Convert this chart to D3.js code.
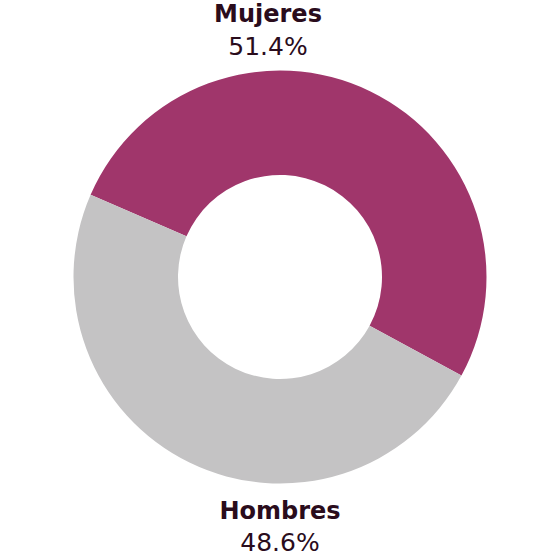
<!DOCTYPE html>
<html>
<head>
<meta charset="utf-8">
<script src="https://cdn.jsdelivr.net/npm/d3@7"></script>
<style>
  html, body { margin: 0; padding: 0; background: #ffffff; }
  svg { display: block; }
</style>
</head>
<body>
<svg id="chart" width="560" height="560"></svg>
<script>
const categories = ["Mujeres", "Hombres"];
const values = [51.4, 48.6];
const valueLabels = ["51.4%", "48.6%"];
const colors = ["#a0366b", "#c4c3c4"];

const svg = d3.select("#chart");
const cx = 280, cy = 277;
const outerR = 206.5, innerR = 102;

const data = categories.map((c, i) => ({ name: c, value: values[i], label: valueLabels[i] }));

// centre the Mujeres slice on the direction seen in the reference (~26° clockwise from top)
const span = 2 * Math.PI * values[0] / d3.sum(values);
const mid = 26 * Math.PI / 180;
const start = mid - span / 2;

const pie = d3.pie().value(d => d.value).sort(null)
  .startAngle(start).endAngle(start + 2 * Math.PI);
const arc = d3.arc().innerRadius(innerR).outerRadius(outerR);

const color = d3.scaleOrdinal().domain(categories).range(colors);

const g = svg.append("g").attr("transform", `translate(${cx},${cy})`);
g.selectAll("path")
  .data(pie(data))
  .join("path")
  .attr("d", arc)
  .attr("fill", d => color(d.data.name));

const textColor = "#2a0c1c";
const labelPos = [
  { x: 268, y1: 22, y2: 55 },
  { x: 280, y1: 519, y2: 551 }
];

const labels = svg.append("g");
data.forEach((d, i) => {
  labels.append("text")
    .attr("x", labelPos[i].x).attr("y", labelPos[i].y1)
    .attr("text-anchor", "middle")
    .attr("font-family", "DejaVu Sans, sans-serif")
    .attr("font-weight", "bold")
    .attr("font-size", 24)
    .attr("fill", textColor)
    .text(d.name);
  labels.append("text")
    .attr("x", labelPos[i].x).attr("y", labelPos[i].y2)
    .attr("text-anchor", "middle")
    .attr("font-family", "DejaVu Sans, sans-serif")
    .attr("font-size", 25)
    .attr("fill", textColor)
    .text(d.label);
});
</script>
</body>
</html>
